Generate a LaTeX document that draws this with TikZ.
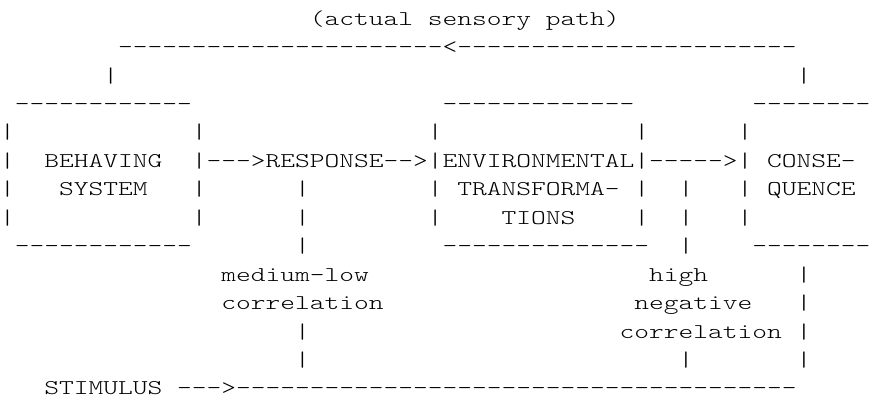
\documentclass[tikz,border=0pt]{standalone}
\usepackage{fontspec}
% light typewriter face, widened to a 14.75pt character cell
\newfontfamily\asciifont{lmmonolt10-regular.otf}[FakeStretch=1.338]

% a run of n hyphens
\ExplSyntaxOn
\newcommand\dashrun[1]{\prg_replicate:nn{#1}{-}}
\ExplSyntaxOff

\tikzset{
  glyph/.style={inner sep=0pt, outer sep=0pt, anchor=base west,
    font=\asciifont\fontsize{21pt}{26pt}\selectfont, text=black},
}
% character cell grid: column width 14.75pt, line pitch 28.44pt
\newcommand\ascii[4]{\node[glyph] (#1) at ({#2*14.75pt},{-(25.2pt+#3*28.44pt)}) {#4};}

\begin{document}
\begin{tikzpicture}
\useasboundingbox (0,0) rectangle (869pt,-406pt);
\fill[white] (0,0) rectangle (869pt,-406pt);

% feedback path along the top
\ascii{pathlabel}{21}{0}{(actual sensory path)}
\ascii{feedback}{8}{1}{\dashrun{22}<\dashrun{23}}
\ascii{fbleft}{7}{2}{|}
\ascii{fbright}{54}{2}{|}

% top borders
\ascii{bstop}{1}{3}{\dashrun{12}}
\ascii{ettop}{30}{3}{\dashrun{13}}
\ascii{cqtop}{51}{3}{\dashrun{8}}

% row 4
\ascii{bsLa}{0}{4}{|}
\ascii{bsRa}{13}{4}{|}
\ascii{etLa}{29}{4}{|}
\ascii{etRa}{43}{4}{|}
\ascii{cqLa}{50}{4}{|}

% row 5: main chain
\ascii{bsLb}{0}{5}{|}
\ascii{behaving}{3}{5}{BEHAVING}
\ascii{bsRb}{13}{5}{|}
\ascii{arrowA}{14}{5}{--->}
\ascii{response}{18}{5}{RESPONSE}
\ascii{arrowB}{26}{5}{-->}
\ascii{etLb}{29}{5}{|}
\ascii{environ}{30}{5}{ENVIRONMENTAL}
\ascii{etRb}{43}{5}{|}
\ascii{arrowC}{44}{5}{----->}
\ascii{cqLb}{50}{5}{|}
\ascii{conse}{52}{5}{CONSE-}

% row 6
\ascii{bsLc}{0}{6}{|}
\ascii{system}{4}{6}{SYSTEM}
\ascii{bsRc}{13}{6}{|}
\ascii{respc}{20}{6}{|}
\ascii{etLc}{29}{6}{|}
\ascii{transf}{31}{6}{TRANSFORMA-}
\ascii{etRc}{43}{6}{|}
\ascii{consc}{46}{6}{|}
\ascii{cqLc}{50}{6}{|}
\ascii{quence}{52}{6}{QUENCE}

% row 7
\ascii{bsLd}{0}{7}{|}
\ascii{bsRd}{13}{7}{|}
\ascii{respd}{20}{7}{|}
\ascii{etLd}{29}{7}{|}
\ascii{tions}{34}{7}{TIONS}
\ascii{etRd}{43}{7}{|}
\ascii{consd}{46}{7}{|}
\ascii{cqLd}{50}{7}{|}

% bottom borders
\ascii{bsbot}{1}{8}{\dashrun{12}}
\ascii{respe}{20}{8}{|}
\ascii{etbot}{30}{8}{\dashrun{14}}
\ascii{conse8}{46}{8}{|}
\ascii{cqbot}{51}{8}{\dashrun{8}}

% correlation labels
\ascii{medlow}{15}{9}{medium-low}
\ascii{high}{44}{9}{high}
\ascii{fbf}{54}{9}{|}
\ascii{corrA}{15}{10}{correlation}
\ascii{negative}{43}{10}{negative}
\ascii{fbg}{54}{10}{|}
\ascii{respg}{20}{11}{|}
\ascii{corrB}{42}{11}{correlation}
\ascii{fbh}{54}{11}{|}
\ascii{resph}{20}{12}{|}
\ascii{consh}{46}{12}{|}
\ascii{fbi}{54}{12}{|}

% stimulus line
\ascii{stimulus}{3}{13}{STIMULUS}
\ascii{arrowD}{12}{13}{--->}
\ascii{stimline}{16}{13}{\dashrun{38}}
\end{tikzpicture}
\end{document}
